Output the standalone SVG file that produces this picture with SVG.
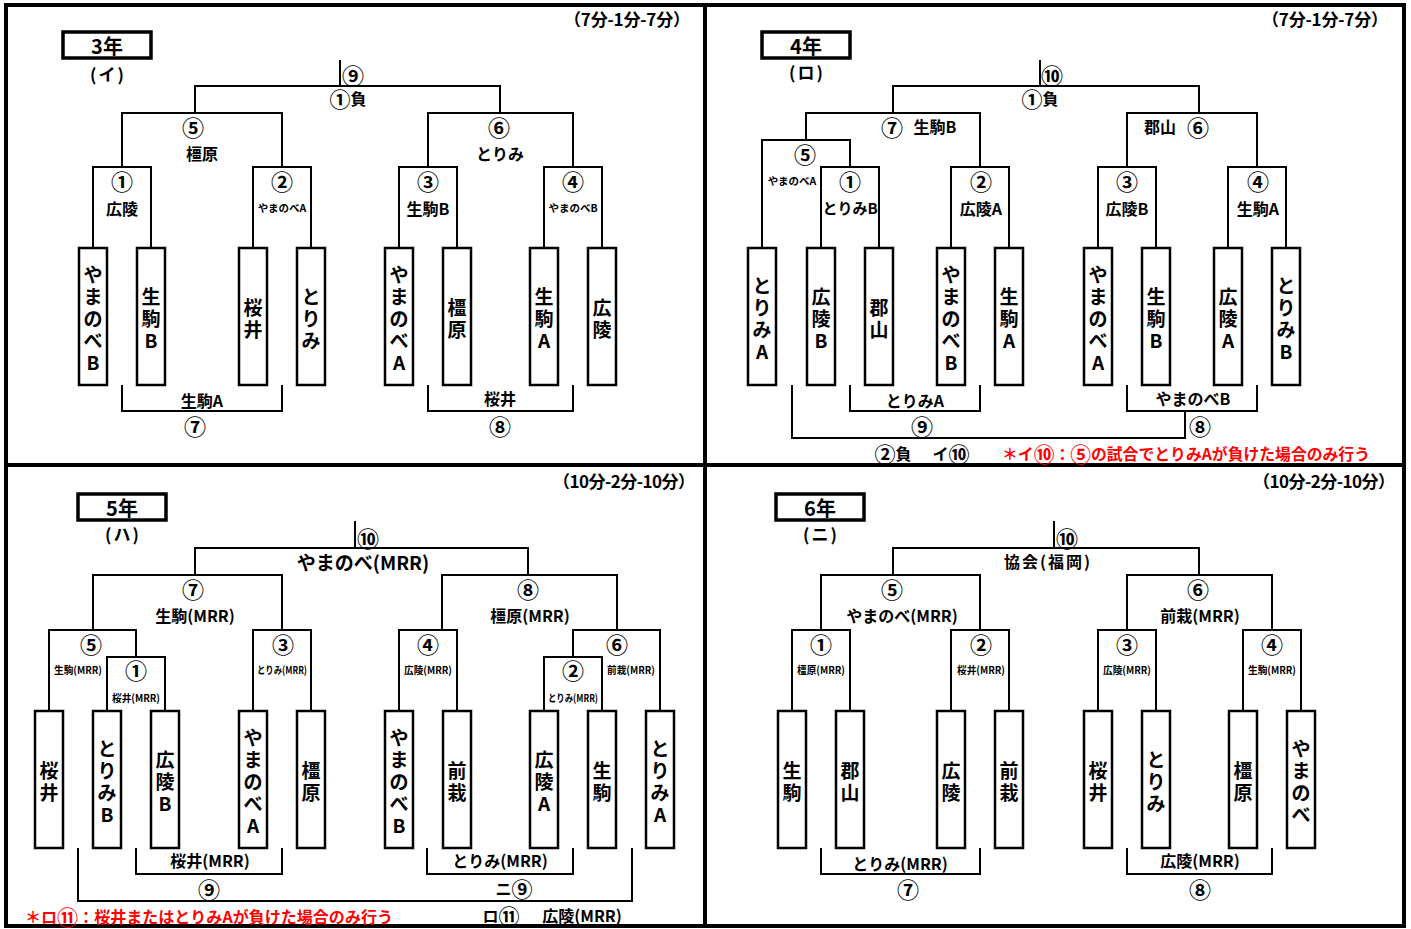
<svg xmlns="http://www.w3.org/2000/svg" width="1411" height="929" viewBox="0 0 1411 929">
<style>
text{font-family:"Noto Sans CJK JP","Noto Sans CJK SC",sans-serif;font-weight:bold;fill:#000;text-anchor:middle;dominant-baseline:central}
.n{font-size:22px}
.ni{font-size:21px}
.lb{font-size:16px}
.hd{font-size:17px}
.ab{font-size:17px;letter-spacing:2px}
.sm{font-size:10.5px}
.v{font-size:19px}
.tt{font-size:20px}
.big{font-size:19px}
.red{fill:#ff0000;font-size:16px;text-anchor:start}
.ln{stroke:#000;stroke-width:2;fill:none}
.bx{stroke:#000;stroke-width:2.5;fill:#fff}
.tb{stroke:#000;stroke-width:3.5;fill:#fff}
.fr{stroke:#000;stroke-width:4;fill:none}
</style>
<rect x="0" y="0" width="1411" height="929" fill="#fff"/>
<g id="frame">
<rect class="fr" x="6" y="5" width="1398" height="921"/>
<line class="fr" x1="705" y1="5" x2="705" y2="926"/>
<line class="fr" x1="6" y1="465" x2="1404" y2="465"/>
</g>
<g id="connectors">
<path class="ln" d="M340 60V86M195 113V86H500V113M122 167V113H282V167M428 167V113H573V167"/>
<path class="ln" d="M93 248V167H151V248M253 248V167H311V248M399 248V167H457V248M544 248V167H602V248"/>
<path class="ln" d="M122 385V411H282V385M428 385V411H573V385"/>
<path class="ln" d="M1040 60V86M893 113V86H1199V113M806 140V113H980V167M1127 167V113H1257V167"/>
<path class="ln" d="M762 248V140H850V167M821 248V167H879V248M951 248V167H1009V248M1098 248V167H1156V248M1228 248V167H1286V248"/>
<path class="ln" d="M850 385V411H980V385M1127 385V411H1257V385M1185 411V438H792V385"/>
<path class="ln" d="M355 521V548M195 575V548H528V575M93 630V575H282V630M442 630V575H617V630"/>
<path class="ln" d="M49 711V630H136V657M107 711V657H165V711M253 711V630H311V711M399 711V630H457V711M573 657V630H660V711M544 711V657H602V711"/>
<path class="ln" d="M136 848V874H282V848M427 848V874H573V848M78 848V901H632V848"/>
<path class="ln" d="M1054 521V548M893 575V548H1199V575M821 630V575H980V630M1127 630V575H1272V630"/>
<path class="ln" d="M792 711V630H850V711M951 711V630H1009V711M1098 711V630H1156V711M1243 711V630H1301V711"/>
<path class="ln" d="M821 848V874H980V848M1127 848V874H1272V848"/>
</g>

<!-- ===== Q1 3年 ===== -->
<g id="q1-header">
<text class="hd" x="627" y="18" textLength="126" lengthAdjust="spacing">（7分-1分-7分）</text>
<rect class="tb" x="63" y="32" width="88" height="26"/>
<text class="tt" x="107" y="45">3年</text>
<text class="ab" x="108" y="73">(イ)</text>
</g>
<g id="q1-labels">
<text class="n" x="353" y="74">⑨</text>
<text class="lb" x="348" y="98"><tspan class="ni">①</tspan>負</text>
<text class="n" x="193" y="126">⑤</text>
<text class="lb" x="202" y="153">橿原</text>
<text class="n" x="499" y="126">⑥</text>
<text class="lb" x="500" y="153">とりみ</text>
<text class="n" x="122" y="180">①</text>
<text class="lb" x="122" y="208">広陵</text>
<text class="n" x="282" y="180">②</text>
<text class="sm" x="282" y="207">やまのべA</text>
<text class="n" x="428" y="180">③</text>
<text class="lb" x="428" y="208">生駒B</text>
<text class="n" x="573" y="180">④</text>
<text class="sm" x="573" y="207">やまのべB</text>
<text class="lb" x="202" y="400">生駒A</text>
<text class="n" x="195" y="425">⑦</text>
<text class="lb" x="500" y="398">桜井</text>
<text class="n" x="500" y="425">⑧</text>
</g>
<g id="q1-t1"><rect class="bx" x="79" y="248" width="28" height="137"/><text class="v"><tspan x="93" y="272.5">や</tspan><tspan x="93" y="294.5">ま</tspan><tspan x="93" y="316.5">の</tspan><tspan x="93" y="338.5">べ</tspan><tspan x="93" y="360.5">B</tspan></text></g>
<g id="q1-t2"><rect class="bx" x="137" y="248" width="28" height="137"/><text class="v"><tspan x="151" y="294.5">生</tspan><tspan x="151" y="316.5">駒</tspan><tspan x="151" y="338.5">B</tspan></text></g>
<g id="q1-t3"><rect class="bx" x="239" y="248" width="28" height="137"/><text class="v"><tspan x="253" y="305.5">桜</tspan><tspan x="253" y="327.5">井</tspan></text></g>
<g id="q1-t4"><rect class="bx" x="297" y="248" width="28" height="137"/><text class="v"><tspan x="311" y="294.5">と</tspan><tspan x="311" y="316.5">り</tspan><tspan x="311" y="338.5">み</tspan></text></g>
<g id="q1-t5"><rect class="bx" x="385" y="248" width="28" height="137"/><text class="v"><tspan x="399" y="272.5">や</tspan><tspan x="399" y="294.5">ま</tspan><tspan x="399" y="316.5">の</tspan><tspan x="399" y="338.5">べ</tspan><tspan x="399" y="360.5">A</tspan></text></g>
<g id="q1-t6"><rect class="bx" x="443" y="248" width="28" height="137"/><text class="v"><tspan x="457" y="305.5">橿</tspan><tspan x="457" y="327.5">原</tspan></text></g>
<g id="q1-t7"><rect class="bx" x="530" y="248" width="28" height="137"/><text class="v"><tspan x="544" y="294.5">生</tspan><tspan x="544" y="316.5">駒</tspan><tspan x="544" y="338.5">A</tspan></text></g>
<g id="q1-t8"><rect class="bx" x="588" y="248" width="28" height="137"/><text class="v"><tspan x="602" y="305.5">広</tspan><tspan x="602" y="327.5">陵</tspan></text></g>

<!-- ===== Q2 4年 ===== -->
<g id="q2-header">
<text class="hd" x="1325" y="18" textLength="126" lengthAdjust="spacing">（7分-1分-7分）</text>
<rect class="tb" x="762" y="32" width="88" height="26"/>
<text class="tt" x="806" y="45">4年</text>
<text class="ab" x="807" y="71">(ロ)</text>
</g>
<g id="q2-labels">
<text class="n" x="1052" y="74">⑩</text>
<text class="lb" x="1040" y="98"><tspan class="ni">①</tspan>負</text>
<text class="n" x="892" y="126">⑦</text>
<text class="lb" x="935" y="126">生駒B</text>
<text class="lb" x="1160" y="126">郡山</text>
<text class="n" x="1198" y="126">⑥</text>
<text class="n" x="805" y="153">⑤</text>
<text class="sm" x="792" y="180" font-size="10">やまのべA</text>
<text class="n" x="850" y="180">①</text>
<text class="lb" x="850" y="207" style="font-size:15px">とりみB</text>
<text class="n" x="981" y="180">②</text>
<text class="lb" x="981" y="208">広陵A</text>
<text class="n" x="1127" y="180">③</text>
<text class="lb" x="1127" y="208">広陵B</text>
<text class="n" x="1258" y="180">④</text>
<text class="lb" x="1258" y="208">生駒A</text>
<text class="lb" x="915" y="400">とりみA</text>
<text class="n" x="922" y="425">⑨</text>
<text class="lb" x="1193" y="398">やまのべB</text>
<text class="n" x="1200" y="425">⑧</text>
<text class="lb" x="893" y="453"><tspan class="ni">②</tspan>負</text>
<text class="lb" x="951" y="453">イ<tspan class="ni">⑩</tspan></text>
<text class="red" x="1002" y="453" textLength="368" lengthAdjust="spacingAndGlyphs">＊イ<tspan style="font-size:21px">⑩</tspan>：<tspan style="font-size:21px">⑤</tspan>の試合でとりみAが負けた場合のみ行う</text>
</g>
<g id="q2-t1"><rect class="bx" x="748" y="248" width="28" height="137"/><text class="v"><tspan x="762" y="283.5">と</tspan><tspan x="762" y="305.5">り</tspan><tspan x="762" y="327.5">み</tspan><tspan x="762" y="349.5">A</tspan></text></g>
<g id="q2-t2"><rect class="bx" x="807" y="248" width="28" height="137"/><text class="v"><tspan x="821" y="294.5">広</tspan><tspan x="821" y="316.5">陵</tspan><tspan x="821" y="338.5">B</tspan></text></g>
<g id="q2-t3"><rect class="bx" x="865" y="248" width="28" height="137"/><text class="v"><tspan x="879" y="305.5">郡</tspan><tspan x="879" y="327.5">山</tspan></text></g>
<g id="q2-t4"><rect class="bx" x="937" y="248" width="28" height="137"/><text class="v"><tspan x="951" y="272.5">や</tspan><tspan x="951" y="294.5">ま</tspan><tspan x="951" y="316.5">の</tspan><tspan x="951" y="338.5">べ</tspan><tspan x="951" y="360.5">B</tspan></text></g>
<g id="q2-t5"><rect class="bx" x="995" y="248" width="28" height="137"/><text class="v"><tspan x="1009" y="294.5">生</tspan><tspan x="1009" y="316.5">駒</tspan><tspan x="1009" y="338.5">A</tspan></text></g>
<g id="q2-t6"><rect class="bx" x="1084" y="248" width="28" height="137"/><text class="v"><tspan x="1098" y="272.5">や</tspan><tspan x="1098" y="294.5">ま</tspan><tspan x="1098" y="316.5">の</tspan><tspan x="1098" y="338.5">べ</tspan><tspan x="1098" y="360.5">A</tspan></text></g>
<g id="q2-t7"><rect class="bx" x="1142" y="248" width="28" height="137"/><text class="v"><tspan x="1156" y="294.5">生</tspan><tspan x="1156" y="316.5">駒</tspan><tspan x="1156" y="338.5">B</tspan></text></g>
<g id="q2-t8"><rect class="bx" x="1214" y="248" width="28" height="137"/><text class="v"><tspan x="1228" y="294.5">広</tspan><tspan x="1228" y="316.5">陵</tspan><tspan x="1228" y="338.5">A</tspan></text></g>
<g id="q2-t9"><rect class="bx" x="1272" y="248" width="28" height="137"/><text class="v"><tspan x="1286" y="283.5">と</tspan><tspan x="1286" y="305.5">り</tspan><tspan x="1286" y="327.5">み</tspan><tspan x="1286" y="349.5">B</tspan></text></g>

<!-- ===== Q3 5年 ===== -->
<g id="q3-header">
<text class="hd" x="624" y="480" textLength="142" lengthAdjust="spacing">（10分-2分-10分）</text>
<rect class="tb" x="78" y="494" width="88" height="26"/>
<text class="tt" x="122" y="507">5年</text>
<text class="ab" x="123" y="533">(ハ)</text>
</g>
<g id="q3-labels">
<text class="n" x="368" y="537">⑩</text>
<text class="big" x="363" y="561">やまのべ(MRR)</text>
<text class="n" x="193" y="588">⑦</text>
<text class="lb" x="195" y="615">生駒(MRR)</text>
<text class="n" x="528" y="588">⑧</text>
<text class="lb" x="530" y="615">橿原(MRR)</text>
<text class="n" x="91" y="643">⑤</text>
<text class="sm" x="78" y="669" textLength="48" lengthAdjust="spacingAndGlyphs">生駒(MRR)</text>
<text class="n" x="136" y="669">①</text>
<text class="sm" x="136" y="697" textLength="48" lengthAdjust="spacingAndGlyphs">桜井(MRR)</text>
<text class="n" x="283" y="643">③</text>
<text class="sm" x="282" y="669" textLength="50" lengthAdjust="spacingAndGlyphs">とりみ(MRR)</text>
<text class="n" x="428" y="643">④</text>
<text class="sm" x="428" y="669" textLength="48" lengthAdjust="spacingAndGlyphs">広陵(MRR)</text>
<text class="n" x="617" y="643">⑥</text>
<text class="sm" x="631" y="669" textLength="48" lengthAdjust="spacingAndGlyphs">前栽(MRR)</text>
<text class="n" x="573" y="669">②</text>
<text class="sm" x="573" y="697" textLength="50" lengthAdjust="spacingAndGlyphs">とりみ(MRR)</text>
<text class="lb" x="210" y="860">桜井(MRR)</text>
<text class="lb" x="500" y="860">とりみ(MRR)</text>
<text class="n" x="209" y="888">⑨</text>
<text class="lb" x="514" y="888">ニ<tspan class="ni">⑨</tspan></text>
<text class="red" x="25" y="916" textLength="368" lengthAdjust="spacingAndGlyphs">＊ロ<tspan style="font-size:21px">⑪</tspan>：桜井またはとりみAが負けた場合のみ行う</text>
<text class="lb" x="501" y="915">ロ<tspan class="ni">⑪</tspan></text>
<text class="lb" x="582" y="915">広陵(MRR)</text>
</g>
<g id="q3-t1"><rect class="bx" x="35" y="711" width="28" height="137"/><text class="v"><tspan x="49" y="768.5">桜</tspan><tspan x="49" y="790.5">井</tspan></text></g>
<g id="q3-t2"><rect class="bx" x="93" y="711" width="28" height="137"/><text class="v"><tspan x="107" y="746.5">と</tspan><tspan x="107" y="768.5">り</tspan><tspan x="107" y="790.5">み</tspan><tspan x="107" y="812.5">B</tspan></text></g>
<g id="q3-t3"><rect class="bx" x="151" y="711" width="28" height="137"/><text class="v"><tspan x="165" y="757.5">広</tspan><tspan x="165" y="779.5">陵</tspan><tspan x="165" y="801.5">B</tspan></text></g>
<g id="q3-t4"><rect class="bx" x="239" y="711" width="28" height="137"/><text class="v"><tspan x="253" y="735.5">や</tspan><tspan x="253" y="757.5">ま</tspan><tspan x="253" y="779.5">の</tspan><tspan x="253" y="801.5">べ</tspan><tspan x="253" y="823.5">A</tspan></text></g>
<g id="q3-t5"><rect class="bx" x="297" y="711" width="28" height="137"/><text class="v"><tspan x="311" y="768.5">橿</tspan><tspan x="311" y="790.5">原</tspan></text></g>
<g id="q3-t6"><rect class="bx" x="385" y="711" width="28" height="137"/><text class="v"><tspan x="399" y="735.5">や</tspan><tspan x="399" y="757.5">ま</tspan><tspan x="399" y="779.5">の</tspan><tspan x="399" y="801.5">べ</tspan><tspan x="399" y="823.5">B</tspan></text></g>
<g id="q3-t7"><rect class="bx" x="443" y="711" width="28" height="137"/><text class="v"><tspan x="457" y="768.5">前</tspan><tspan x="457" y="790.5">栽</tspan></text></g>
<g id="q3-t8"><rect class="bx" x="530" y="711" width="28" height="137"/><text class="v"><tspan x="544" y="757.5">広</tspan><tspan x="544" y="779.5">陵</tspan><tspan x="544" y="801.5">A</tspan></text></g>
<g id="q3-t9"><rect class="bx" x="588" y="711" width="28" height="137"/><text class="v"><tspan x="602" y="768.5">生</tspan><tspan x="602" y="790.5">駒</tspan></text></g>
<g id="q3-t10"><rect class="bx" x="646" y="711" width="28" height="137"/><text class="v"><tspan x="660" y="746.5">と</tspan><tspan x="660" y="768.5">り</tspan><tspan x="660" y="790.5">み</tspan><tspan x="660" y="812.5">A</tspan></text></g>

<!-- ===== Q4 6年 ===== -->
<g id="q4-header">
<text class="hd" x="1324" y="480" textLength="142" lengthAdjust="spacing">（10分-2分-10分）</text>
<rect class="tb" x="776" y="494" width="88" height="26"/>
<text class="tt" x="820" y="507">6年</text>
<text class="ab" x="821" y="533">(ニ)</text>
</g>
<g id="q4-labels">
<text class="n" x="1067" y="537">⑩</text>
<text class="lb" x="1048" y="561" style="letter-spacing:2px">協会(福岡)</text>
<text class="n" x="892" y="588">⑤</text>
<text class="lb" x="902" y="615">やまのべ(MRR)</text>
<text class="n" x="1198" y="588">⑥</text>
<text class="lb" x="1200" y="615">前栽(MRR)</text>
<text class="n" x="821" y="643">①</text>
<text class="sm" x="821" y="669" textLength="48" lengthAdjust="spacingAndGlyphs">橿原(MRR)</text>
<text class="n" x="981" y="643">②</text>
<text class="sm" x="981" y="669" textLength="48" lengthAdjust="spacingAndGlyphs">桜井(MRR)</text>
<text class="n" x="1127" y="643">③</text>
<text class="sm" x="1127" y="669" textLength="48" lengthAdjust="spacingAndGlyphs">広陵(MRR)</text>
<text class="n" x="1272" y="643">④</text>
<text class="sm" x="1272" y="669" textLength="48" lengthAdjust="spacingAndGlyphs">生駒(MRR)</text>
<text class="lb" x="900" y="863">とりみ(MRR)</text>
<text class="n" x="908" y="888">⑦</text>
<text class="lb" x="1200" y="860">広陵(MRR)</text>
<text class="n" x="1200" y="888">⑧</text>
</g>
<g id="q4-t1"><rect class="bx" x="778" y="711" width="28" height="137"/><text class="v"><tspan x="792" y="768.5">生</tspan><tspan x="792" y="790.5">駒</tspan></text></g>
<g id="q4-t2"><rect class="bx" x="836" y="711" width="28" height="137"/><text class="v"><tspan x="850" y="768.5">郡</tspan><tspan x="850" y="790.5">山</tspan></text></g>
<g id="q4-t3"><rect class="bx" x="937" y="711" width="28" height="137"/><text class="v"><tspan x="951" y="768.5">広</tspan><tspan x="951" y="790.5">陵</tspan></text></g>
<g id="q4-t4"><rect class="bx" x="995" y="711" width="28" height="137"/><text class="v"><tspan x="1009" y="768.5">前</tspan><tspan x="1009" y="790.5">栽</tspan></text></g>
<g id="q4-t5"><rect class="bx" x="1084" y="711" width="28" height="137"/><text class="v"><tspan x="1098" y="768.5">桜</tspan><tspan x="1098" y="790.5">井</tspan></text></g>
<g id="q4-t6"><rect class="bx" x="1142" y="711" width="28" height="137"/><text class="v"><tspan x="1156" y="757.5">と</tspan><tspan x="1156" y="779.5">り</tspan><tspan x="1156" y="801.5">み</tspan></text></g>
<g id="q4-t7"><rect class="bx" x="1229" y="711" width="28" height="137"/><text class="v"><tspan x="1243" y="768.5">橿</tspan><tspan x="1243" y="790.5">原</tspan></text></g>
<g id="q4-t8"><rect class="bx" x="1287" y="711" width="28" height="137"/><text class="v"><tspan x="1301" y="746.5">や</tspan><tspan x="1301" y="768.5">ま</tspan><tspan x="1301" y="790.5">の</tspan><tspan x="1301" y="812.5">べ</tspan></text></g>
</svg>
